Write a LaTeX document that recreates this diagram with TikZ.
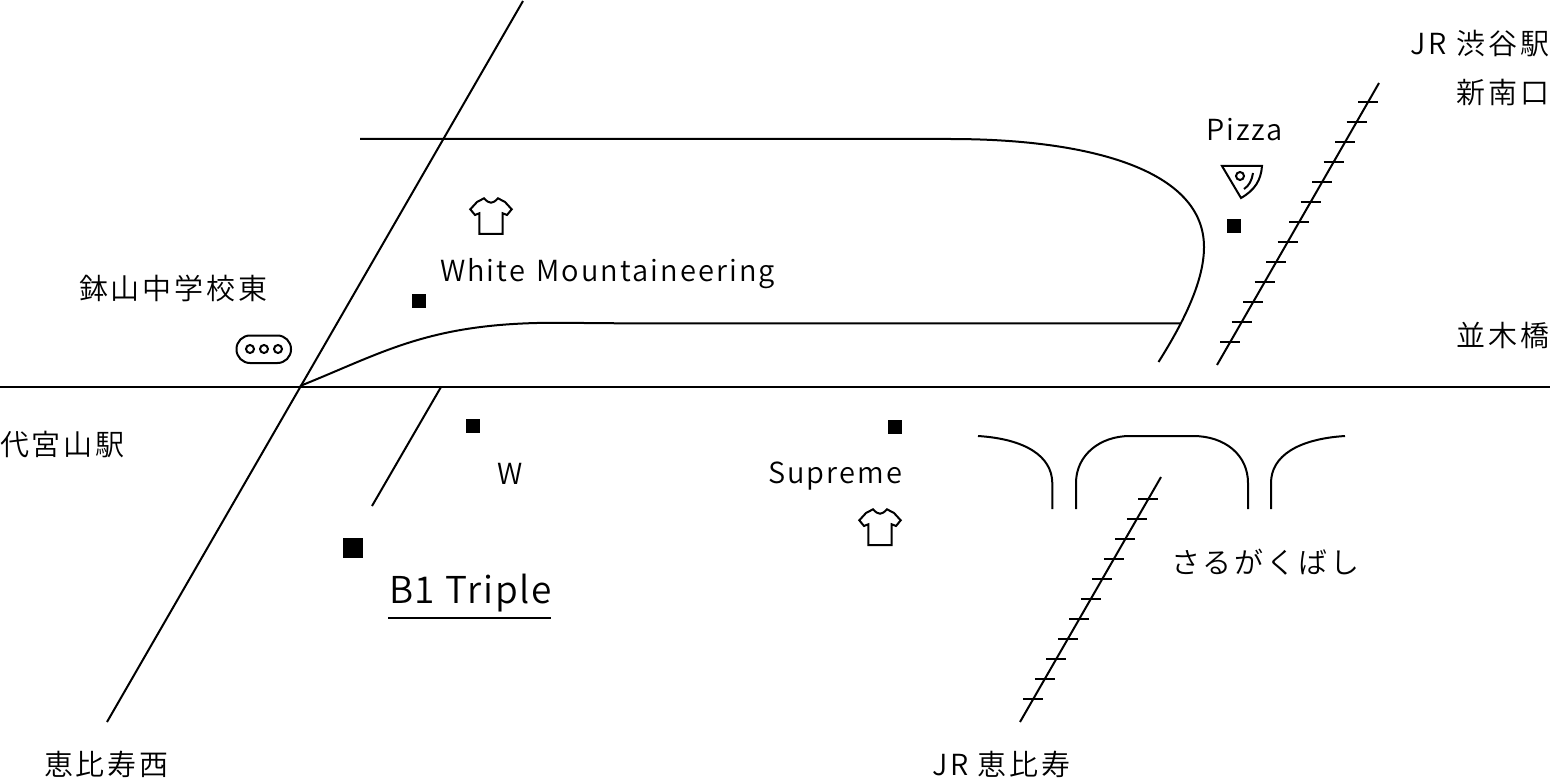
\documentclass[tikz,border=0pt]{standalone}
\usepackage{fontspec}
\setmainfont[LetterSpace=10]{Noto Sans CJK JP DemiLight}
\newfontfamily\latfont[LetterSpace=7.2,WordSpace=1.3]{Noto Sans CJK JP DemiLight}
\newfontfamily\bigfont[LetterSpace=4.5,WordSpace=1.1]{Noto Sans CJK JP DemiLight}
\tikzset{
  road/.style={draw=black,line width=2pt},
  icon/.style={draw=black,line width=2pt,line join=miter},
  lab/.style={anchor=base west,inner sep=0pt,outer sep=0pt,font=\fontsize{29pt}{29pt}\selectfont,text=black},
  latlab/.style={lab,font=\latfont\fontsize{29pt}{29pt}\selectfont},
  labr/.style={lab,anchor=base east},
  shop/.style={fill=black,draw=none,minimum size=14pt,inner sep=0pt,outer sep=0pt,rectangle},
}
\newcommand{\shirtat}[2]{%
  \begin{scope}[shift={(#1,#2)}]
    \draw[icon] (-11.7,18) -- (-11.7,-2.7) -- (-16,-1) -- (-20.7,-6.7) -- (-14,-14) -- (-7,-17.7)
      .. controls (-4,-14.5) and (-2,-13.3) .. (0,-13.3)
      .. controls (2,-13.3) and (4,-14.5) .. (7,-17.7)
      -- (14,-14) -- (20.7,-6.7) -- (16,-1) -- (11.7,-2.7) -- (11.7,18) -- cycle;
  \end{scope}}
\begin{document}
\begin{tikzpicture}[x=1pt,y=-1pt]
\useasboundingbox (0,0) rectangle (1550,778);
% main roads
\coordinate (d1) at (523,1); \coordinate (d2) at (107,722);
\coordinate (h1) at (0,387); \coordinate (h2) at (1550,387);
\draw[road] (d1) -- (d2);
\draw[road] (h1) -- (h2);
\draw[road] (360,139) -- (950,139) .. controls (1090,139) and (1204,170) .. (1204,247)
  .. controls (1204,280) and (1185,320) .. (1158.5,362);
\draw[road] (300,386) .. controls (385,352) and (430,322) .. (560,322.8) -- (620,323.3) -- (1181,323.3);
\draw[road] (441,387) -- (372,506);
% tracks
\draw[road] (1379,83) -- (1217,365);
\foreach \i in {0,...,12} {
  \pgfmathsetmacro{\yy}{102+20*\i}
  \pgfmathsetmacro{\xx}{1379-(\yy-83)*0.5745}
  \draw[road] (\xx-10,\yy) -- (\xx+10,\yy);
}
\draw[road] (1161,477) -- (1020,722);
\foreach \i in {0,...,10} {
  \pgfmathsetmacro{\yy}{499+20*\i}
  \pgfmathsetmacro{\xx}{1161-(\yy-477)*0.5755}
  \draw[road] (\xx-10,\yy) -- (\xx+10,\yy);
}
% ground curves
\draw[road] (978,436) .. controls (1025,439) and (1052,456) .. (1052.3,483) -- (1052.3,509);
\draw[road] (1076,509) -- (1076,483) .. controls (1076,455) and (1100,436) .. (1130,436)
  -- (1193,436) .. controls (1225,436) and (1248,455) .. (1248,483) -- (1248,509);
\draw[road] (1271,509) -- (1271,483) .. controls (1271,456) and (1298,439) .. (1345,436);
% shop squares
\node[shop] (s1) at (419,301) {};
\node[shop] (s2) at (473,426) {};
\node[shop] (s3) at (895,427) {};
\node[shop] (s4) at (1234,226) {};
\node[shop,minimum size=20pt] (s5) at (353,548) {};
% traffic light
\draw[icon,rounded corners=13.5pt] (236.5,335.5) rectangle (291,363);
\draw[icon] (250,349) circle (4);
\draw[icon] (264,349) circle (4);
\draw[icon] (278,349) circle (4);
% shirts
\shirtat{491}{216}
\shirtat{880}{527}
% pizza
\draw[icon] (1222,166) -- (1262,166) .. controls (1261,180) and (1255,190) .. (1241,198) -- cycle;
\draw[icon] (1253,173) .. controls (1252,180) and (1249,186) .. (1244,189);
\draw[icon] (1240,176) circle (4);
% labels
\node[lab] (t1) at (79,299) {鉢山中学校東};
\node[lab] (t2) at (0,455) {代宮山駅};
\node[lab] (t3) at (44,775) {恵比寿西};
\node[lab] (t4) at (932,775) {JR 恵比寿};
\node[lab] (t5) at (1171,573) {さるがくばし};
\node[latlab] (t6) at (768,483) {Supreme};
\node[latlab] (t7) at (497,484) {W};
\node[latlab] (t8) at (440,281) {White Mountaineering};
\node[latlab] (t9) at (1206,141) {Pizza};
\node[labr] (t10) at (1549,55) {JR 渋谷駅};
\node[labr] (t11) at (1549,104) {新南口};
\node[labr] (t12) at (1549,346) {並木橋};
\node[lab,font=\bigfont\fontsize{37pt}{37pt}\selectfont] (t13) at (389,603) {B1 Triple};
\draw[road] (388,617.5) -- (550.5,617.5);
\end{tikzpicture}
\end{document}
